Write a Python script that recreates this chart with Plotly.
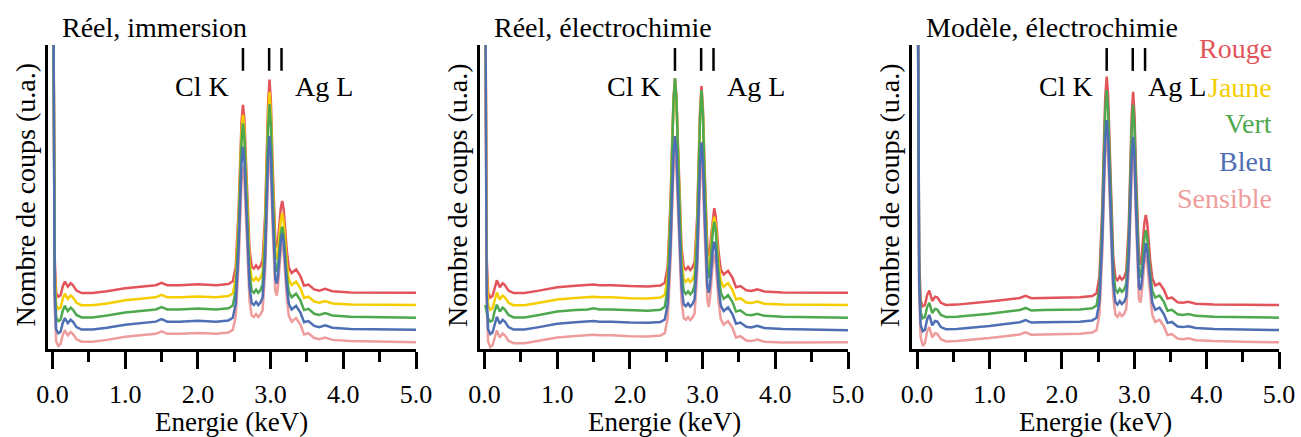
import plotly.graph_objects as go

W, H = 1301, 437

# Energy grid (keV) shared by all spectra
energy = [0.01, 0.03, 0.05, 0.08, 0.11, 0.14, 0.17, 0.21, 0.25, 0.28,
          0.33, 0.40, 0.55, 0.75, 1.0, 1.25, 1.42, 1.5, 1.58, 1.75,
          2.0, 2.25, 2.42, 2.48, 2.52, 2.56, 2.58, 2.60, 2.62, 2.64,
          2.66, 2.68, 2.71, 2.74, 2.77, 2.80, 2.83, 2.86, 2.89, 2.925,
          2.945, 2.965, 2.985, 3.005, 3.025, 3.045, 3.065, 3.085, 3.10, 3.12,
          3.14, 3.16, 3.18, 3.20, 3.22, 3.25, 3.29, 3.35, 3.41, 3.46,
          3.52, 3.6, 3.67, 3.75, 3.85, 4.1, 4.5, 5.0]

# ---- Panel 1 : Réel, immersion ----
p1_rouge = [130, 30, 18.5, 17.2, 17.6, 20.5, 22.2, 20.5, 21.6, 21.0,
            19.2, 18.4, 18.4, 19.0, 20.0, 20.7, 21.0, 21.8, 21.0, 21.0,
            21.3, 21.0, 21.4, 22.3, 27.0, 45.9, 61.2, 74.7, 80.3, 75.4,
            62.5, 47.9, 32.7, 27.1, 26.5, 27.5, 26.5, 27.3, 29.2, 44.2,
            62.0, 80.5, 88.6, 80.9, 62.8, 45.6, 35.7, 33.5, 35.3, 40.7,
            46.3, 48.7, 45.8, 39.6, 32.9, 26.8, 25.0, 26.2, 24.0, 20.8,
            21.2, 19.6, 19.2, 19.8, 19.0, 18.6, 18.5, 18.5]
p1_jaune = [130, 26, 14.5, 13.2, 13.6, 16.5, 18.2, 16.5, 17.6, 17.0,
            15.2, 14.4, 14.4, 15.0, 16.0, 16.7, 17.0, 17.8, 17.0, 17.0,
            17.3, 17.0, 17.4, 18.3, 23.1, 42.2, 57.7, 71.3, 77.0, 72.0,
            59.0, 44.2, 28.8, 23.1, 22.5, 23.5, 22.5, 23.3, 25.2, 40.2,
            58.0, 76.5, 84.6, 76.9, 58.8, 41.6, 31.7, 29.5, 31.3, 36.7,
            42.3, 44.7, 41.8, 35.6, 28.9, 22.8, 21.0, 22.2, 20.0, 16.8,
            17.2, 15.6, 15.2, 15.8, 15.0, 14.6, 14.5, 14.5]
p1_vert = [130, 22, 10.5, 9.2, 9.6, 12.5, 14.2, 12.5, 13.6, 13.0,
           11.2, 10.4, 10.4, 11.0, 12.0, 12.7, 13.0, 13.8, 13.0, 13.0,
           13.3, 13.0, 13.4, 14.3, 19.2, 38.7, 54.5, 68.4, 74.2, 69.1,
           55.8, 40.7, 25.0, 19.2, 18.5, 19.5, 18.5, 19.3, 21.2, 36.2,
           54.0, 72.5, 80.6, 72.9, 54.8, 37.6, 27.7, 25.4, 27.1, 32.4,
           37.9, 40.2, 37.4, 31.3, 24.7, 18.8, 17.0, 18.2, 16.0, 12.8,
           13.2, 11.6, 11.2, 11.8, 11.0, 10.6, 10.5, 10.3]
p1_bleu = [130, 18, 6.5, 5.2, 5.6, 8.5, 10.2, 8.5, 9.6, 9.0,
           7.2, 6.4, 6.4, 7.0, 8.0, 8.7, 9.0, 9.8, 9.0, 9.0,
           9.3, 9.0, 9.4, 10.3, 14.8, 33.2, 48.0, 61.1, 66.5, 61.8,
           49.3, 35.2, 20.5, 15.1, 14.5, 15.5, 14.5, 15.3, 16.9, 30.3,
           46.2, 62.8, 70.0, 63.2, 47.0, 31.7, 23.1, 21.5, 23.7, 29.5,
           35.4, 38.0, 34.9, 28.4, 21.3, 14.9, 13.0, 14.2, 12.0, 8.8,
           9.2, 7.6, 7.2, 7.8, 7.0, 6.6, 6.4, 6.3]
p1_sensible = [130, 14, 2.5, 1.0, 1.6, 4.5, 6.2, 4.5, 5.6, 5.0,
               3.2, 2.4, 2.4, 3.0, 4.0, 4.7, 5.0, 5.8, 5.0, 5.0,
               5.3, 5.0, 5.4, 6.3, 10.6, 28.1, 42.3, 54.8, 60.0, 55.5,
               43.6, 30.1, 16.1, 11.0, 10.5, 11.5, 10.5, 11.3, 12.8, 25.7,
               41.1, 57.0, 64.0, 57.4, 41.9, 27.2, 18.9, 17.6, 20.0, 26.0,
               32.2, 34.8, 31.7, 24.9, 17.6, 11.0, 9.0, 10.2, 8.0, 4.8,
               5.2, 3.6, 3.2, 3.8, 3.0, 2.6, 2.4, 2.2]

# ---- Panel 2 : Réel, électrochimie ----
p2_rouge = [130, 30, 18.5, 16.9, 17.4, 20.5, 22.6, 20.3, 21.6, 21.0,
            19.2, 18.4, 18.4, 19.2, 20.3, 20.8, 21.0, 21.2, 21.0, 21.0,
            20.7, 20.6, 20.9, 21.8, 27.3, 49.2, 66.9, 82.5, 89.0, 83.2,
            68.2, 51.2, 33.4, 26.9, 26.1, 27.0, 26.0, 26.8, 28.6, 43.3,
            60.6, 78.6, 86.5, 78.9, 61.4, 43.9, 33.5, 30.5, 32.4, 37.7,
            43.5, 46.3, 43.8, 37.9, 31.8, 26.2, 24.5, 25.7, 23.5, 20.3,
            20.7, 19.3, 19.1, 19.6, 18.9, 18.6, 18.5, 18.5]
p2_jaune = [130, 26, 14.5, 12.9, 13.4, 16.5, 18.6, 16.3, 17.6, 17.0,
            15.2, 14.4, 14.4, 15.2, 16.3, 16.8, 17.0, 17.2, 17.0, 17.0,
            16.7, 16.6, 16.9, 17.8, 23.6, 46.4, 64.9, 81.2, 88.0, 81.9,
            66.2, 48.4, 29.8, 23.0, 22.1, 23.0, 22.0, 22.8, 24.7, 40.0,
            58.0, 76.8, 85.0, 77.1, 58.8, 40.6, 29.8, 26.8, 28.8, 34.4,
            40.6, 43.5, 40.9, 34.6, 28.2, 22.3, 20.5, 21.7, 19.5, 16.3,
            16.7, 15.3, 15.1, 15.6, 14.9, 14.6, 14.5, 14.5]
p2_vert = [14.5, 12.0, 10.0, 9.0, 9.4, 12.5, 14.6, 12.3, 13.6, 13.0,
           11.2, 10.4, 10.4, 11.2, 12.3, 12.8, 13.0, 13.4, 13.0, 13.0,
           12.7, 12.6, 12.9, 13.9, 20.0, 44.5, 64.3, 81.7, 89.0, 82.4,
           65.6, 46.5, 26.5, 19.1, 18.1, 19.0, 18.0, 18.8, 20.9, 37.2,
           56.4, 76.4, 85.2, 76.8, 57.3, 37.9, 26.5, 23.3, 25.6, 31.9,
           38.7, 41.9, 39.0, 32.1, 25.0, 18.5, 16.5, 17.7, 15.5, 12.3,
           12.7, 11.3, 11.1, 11.6, 10.9, 10.6, 10.4, 10.3]
p2_bleu = [130, 18, 6.5, 4.9, 5.4, 8.5, 10.6, 8.3, 9.6, 9.0,
           7.2, 6.4, 6.4, 7.2, 8.3, 8.8, 9.0, 9.2, 9.0, 9.0,
           8.7, 8.6, 8.9, 9.7, 14.7, 34.3, 50.2, 64.2, 70.0, 64.9,
           51.5, 36.3, 20.5, 14.7, 14.1, 15.0, 14.0, 14.8, 16.3, 29.4,
           44.9, 60.9, 68.0, 61.2, 45.7, 30.0, 20.8, 18.5, 20.7, 26.3,
           32.4, 35.3, 32.7, 26.5, 20.1, 14.3, 12.5, 13.7, 11.5, 8.3,
           8.7, 7.3, 7.1, 7.6, 6.9, 6.6, 6.4, 6.2]
p2_sensible = [130, 14, 2.5, 0.6, 1.2, 4.0, 6.1, 3.8, 5.1, 4.5,
               2.7, 1.9, 1.9, 2.7, 3.8, 4.3, 4.5, 4.7, 4.5, 4.5,
               4.2, 4.1, 4.4, 5.2, 10.2, 29.6, 45.4, 59.2, 65.0, 59.9,
               46.6, 31.6, 15.9, 10.2, 9.6, 10.5, 9.5, 10.3, 11.7, 24.5,
               39.5, 55.1, 62.0, 55.4, 40.3, 25.1, 16.2, 13.8, 16.3, 21.9,
               28.1, 31.0, 28.4, 22.1, 15.7, 9.8, 8.0, 9.2, 7.0, 3.8,
               4.2, 2.8, 2.6, 3.1, 2.4, 2.1, 2.2, 2.2]

# ---- Panel 3 : Modèle, électrochimie ----
p3_rouge = [130, 30, 16, 14.1, 14.5, 17.8, 19.2, 15.8, 17.2, 17.0,
            15.2, 14.5, 14.6, 15.0, 15.6, 16.3, 16.8, 17.5, 16.7, 16.8,
            16.9, 17.0, 17.4, 18.3, 24.0, 47.3, 66.1, 82.7, 89.6, 83.3,
            67.4, 49.3, 30.5, 23.6, 22.6, 23.8, 22.8, 23.5, 25.5, 40.5,
            58.3, 76.6, 84.6, 76.6, 58.3, 40.7, 30.3, 27.7, 29.7, 35.3,
            41.3, 44.1, 41.5, 35.6, 29.3, 23.3, 20.9, 21.6, 19.5, 16.6,
            16.9, 15.4, 15.2, 15.5, 14.9, 14.6, 14.5, 14.5]
p3_vert = [130, 26, 12, 10.1, 10.5, 13.8, 15.2, 11.8, 13.2, 13.0,
           11.2, 10.5, 10.6, 11.0, 11.6, 12.3, 12.8, 13.5, 12.7, 12.8,
           12.9, 13.0, 13.4, 14.3, 20.0, 43.1, 61.8, 78.3, 85.2, 78.9,
           63.1, 45.1, 26.4, 19.6, 18.6, 19.8, 18.8, 19.5, 21.5, 36.4,
           54.1, 72.3, 80.3, 72.3, 54.1, 36.6, 26.3, 23.5, 25.4, 30.7,
           36.4, 39.1, 36.6, 31.0, 25.0, 19.2, 16.9, 17.6, 15.5, 12.6,
           12.9, 11.4, 11.2, 11.5, 10.9, 10.6, 10.4, 10.3]
p3_bleu = [130, 22, 8, 5.8, 6.3, 9.8, 11.2, 7.8, 9.2, 9.0,
           7.2, 6.5, 6.6, 7.0, 7.6, 8.3, 8.8, 9.5, 8.7, 8.8,
           8.9, 9.0, 9.4, 10.3, 15.5, 36.7, 53.9, 68.9, 75.3, 69.6,
           55.1, 38.7, 21.6, 15.4, 14.6, 15.8, 14.8, 15.5, 17.2, 30.5,
           46.4, 62.7, 69.8, 62.7, 46.4, 30.7, 20.5, 19.4, 21.3, 26.5,
           32.1, 34.8, 32.4, 26.8, 20.9, 15.2, 12.9, 13.6, 11.5, 8.6,
           8.9, 7.4, 7.2, 7.5, 6.9, 6.6, 6.4, 6.25]
p3_sensible = [130, 18, 4, 1.0, 2.0, 5.8, 7.2, 3.8, 5.2, 5.0,
               3.2, 2.5, 2.6, 3.0, 3.6, 4.3, 4.8, 5.5, 4.7, 4.8,
               4.9, 5.0, 5.4, 6.2, 11.4, 32.2, 49.0, 63.8, 70.0, 64.4,
               50.3, 34.2, 17.5, 11.4, 10.6, 11.8, 10.8, 11.5, 13.2, 26.3,
               41.9, 58.0, 65.0, 58.0, 41.9, 26.5, 16.4, 15.3, 17.3, 22.6,
               28.3, 31.0, 28.5, 22.9, 17.0, 11.2, 8.9, 9.6, 7.5, 4.6,
               4.9, 3.4, 3.2, 3.5, 2.9, 2.6, 2.4, 2.2]

panel_titles = ["Réel, immersion", "Réel, électrochimie", "Modèle, électrochimie"]
series_names = ["Rouge", "Jaune", "Vert", "Bleu", "Sensible"]
series_colors = {"Rouge": "#E2545A", "Jaune": "#F5CE00", "Vert": "#4EA84E",
                 "Bleu": "#4E6FB4", "Sensible": "#EE9C9C"}
line_energies = [2.62, 2.98, 3.15]       # Cl K, Ag Lα, Ag Lβ markers
x_ticks = [0, 1, 2, 3, 4, 5]
x_tick_labels = ["0.0", "1.0", "2.0", "3.0", "4.0", "5.0"]

panels = [
    {"Rouge": p1_rouge, "Jaune": p1_jaune, "Vert": p1_vert, "Bleu": p1_bleu, "Sensible": p1_sensible},
    {"Rouge": p2_rouge, "Jaune": p2_jaune, "Vert": p2_vert, "Bleu": p2_bleu, "Sensible": p2_sensible},
    {"Rouge": p3_rouge, "Vert": p3_vert, "Bleu": p3_bleu, "Sensible": p3_sensible},
]
draw_order = ["Sensible", "Rouge", "Jaune", "Vert", "Bleu"]

# pixel layout of each panel: (y-axis pixel, pixel of E=0, pixel of E=5)
panel_px = [(47.5, 52.5, 416), (480, 484.5, 848), (912, 917, 1279)]
y_top_px, y_bot_px = 45, 349

FONT = "Liberation Serif"

def px(x):
    return x / W

def py(y):
    return 1 - y / H

fig = go.Figure()
for i, series in enumerate(panels):
    ax = "" if i == 0 else str(i + 1)
    for name in draw_order:
        if name not in series:
            continue
        fig.add_trace(go.Scatter(
            x=energy, y=series[name], mode="lines", name=name,
            line=dict(color=series_colors[name], width=2.5),
            xaxis="x" + ax, yaxis="y" + ax, showlegend=False, hoverinfo="skip"))

layout = dict(width=W, height=H, margin=dict(l=0, r=0, t=0, b=0, pad=0, autoexpand=False),
              plot_bgcolor="white", paper_bgcolor="white", showlegend=False,
              font=dict(family=FONT, color="black", size=26))
shapes, annotations = [], []
for i, (yax_px, x0_px, x5_px) in enumerate(panel_px):
    k = "" if i == 0 else str(i + 1)
    scale = (x5_px - x0_px) / 5.0
    xmin = -(x0_px - yax_px) / scale
    layout["xaxis" + k] = dict(
        domain=[px(yax_px), px(x5_px)], range=[xmin, 5.0], anchor="y" + k, automargin=False,
        showgrid=False, zeroline=False, showline=True, linecolor="black", linewidth=2.5,
        tickvals=x_ticks, ticktext=x_tick_labels, ticks="outside", ticklen=17, tickwidth=2.5,
        ticklabelstandoff=3,
        tickcolor="black", tickfont=dict(family=FONT, size=26, color="black"),
        minor=dict(dtick=0.5, tick0=0, ticks="outside", ticklen=10, tickwidth=2.5, tickcolor="black"),
        fixedrange=True)
    layout["yaxis" + k] = dict(
        domain=[py(y_bot_px), py(y_top_px)], range=[0, 100], anchor="x" + k, automargin=False,
        showgrid=False, zeroline=False, showline=True, linecolor="black", linewidth=2.5,
        showticklabels=False, ticks="", fixedrange=True)
    xc = (yax_px + x5_px) / 2
    annotations.append(dict(text="Energie (keV)", x=px(xc), y=py(405), xref="paper", yref="paper",
                            showarrow=False, xanchor="center", yanchor="top",
                            font=dict(family=FONT, size=27, color="black")))
    annotations.append(dict(text="Nombre de coups (u.a.)", x=px(yax_px - 23), y=py(195),
                            xref="paper", yref="paper", showarrow=False, textangle=-90,
                            xanchor="center", yanchor="middle",
                            font=dict(family=FONT, size=28, color="black")))
    annotations.append(dict(text=panel_titles[i], x=px(yax_px + 12), y=py(27), xref="paper",
                            yref="paper", showarrow=False, xanchor="left", yanchor="middle",
                            font=dict(family=FONT, size=28, color="black")))
    for e in line_energies:
        shapes.append(dict(type="line", xref="x" + k, yref="y" + k, x0=e, x1=e, y0=91.5, y1=99,
                           line=dict(color="black", width=2.5)))
    annotations.append(dict(text="Cl K", x=2.46, y=86.5, xref="x" + k, yref="y" + k,
                            showarrow=False, xanchor="right", yanchor="middle",
                            font=dict(family=FONT, size=28, color="black")))
    annotations.append(dict(text="Ag L", x=3.31 if i < 2 else 3.16, y=86.5, xref="x" + k,
                            yref="y" + k, showarrow=False, xanchor="left", yanchor="middle",
                            font=dict(family=FONT, size=28, color="black")))

legend_y = [49, 87, 124, 161, 198]
for name, yy in zip(series_names, legend_y):
    annotations.append(dict(text=name, x=px(1274), y=py(yy), xref="paper", yref="paper",
                            showarrow=False, xanchor="right", yanchor="middle",
                            font=dict(family=FONT, size=28, color=series_colors[name])))

layout["shapes"] = shapes
layout["annotations"] = annotations
fig.update_layout(**layout)
fig.write_html("out.html", config={"displayModeBar": False},
               post_script="document.body.style.margin='0px';document.body.style.padding='0px';")
